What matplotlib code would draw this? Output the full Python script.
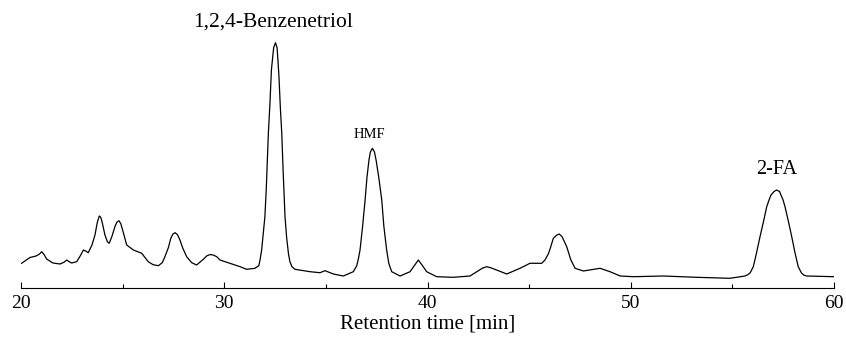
import matplotlib
matplotlib.use("Agg")
import matplotlib.pyplot as plt
from matplotlib.ticker import MultipleLocator

# retention time [min] and detector signal (arbitrary units)
time_min = [
    20.03, 20.25, 20.44, 20.74, 20.90, 21.02, 21.14, 21.26, 21.57, 21.92,
    22.12, 22.25, 22.37, 22.49, 22.74, 22.92, 23.07, 23.20, 23.31, 23.49,
    23.64, 23.75, 23.85, 23.92, 23.99, 24.13, 24.25, 24.34, 24.48, 24.62,
    24.72, 24.82, 24.91, 25.00, 25.20, 25.53, 25.94, 26.26, 26.50, 26.76,
    26.95, 27.08, 27.25, 27.37, 27.47, 27.58, 27.70, 27.82, 27.95, 28.15,
    28.40, 28.64, 28.97, 29.15, 29.32, 29.48, 29.63, 29.79, 30.28, 30.78,
    31.10, 31.51, 31.70, 31.76, 31.84, 31.92, 32.00, 32.07, 32.17, 32.25,
    32.32, 32.43, 32.52, 32.60, 32.69, 32.76, 32.83, 32.90, 32.99, 33.07,
    33.16, 33.23, 33.33, 33.48, 34.22, 34.71, 34.96, 35.37, 35.86, 36.35,
    36.52, 36.61, 36.68, 36.80, 36.93, 37.02, 37.12, 37.19, 37.29, 37.39,
    37.47, 37.59, 37.75, 37.85, 37.99, 38.10, 38.24, 38.65, 39.14, 39.35,
    39.55, 39.65, 39.73, 39.96, 40.45, 41.27, 42.09, 42.70, 42.91, 43.10,
    43.40, 43.90, 44.55, 45.04, 45.62, 45.78, 45.95, 46.05, 46.19, 46.35,
    46.48, 46.62, 46.85, 47.05, 47.26, 47.67, 48.49, 48.98, 49.48, 50.13,
    51.60, 53.24, 54.88, 55.62, 55.76, 55.87, 56.03, 56.19, 56.36, 56.54,
    56.69, 56.81, 56.90, 57.05, 57.18, 57.32, 57.39, 57.49, 57.59, 57.76,
    57.92, 58.08, 58.24, 58.40, 58.52, 58.66, 60.00,
]
signal = [
    24.4, 27.5, 30.2, 31.7, 33.5, 36.0, 33.0, 28.7, 24.7, 23.7,
    25.5, 27.7, 26.0, 24.7, 26.0, 32.0, 37.7, 36.5, 35.0, 42.7,
    52.7, 65.0, 71.7, 70.5, 65.7, 52.7, 46.0, 44.4, 51.7, 61.0,
    65.5, 67.0, 64.0, 57.7, 42.7, 37.7, 34.4, 26.0, 23.0, 22.0,
    25.0, 31.0, 40.0, 49.4, 53.5, 55.0, 53.0, 47.7, 40.0, 31.0,
    25.0, 22.7, 28.4, 32.0, 33.2, 32.5, 31.0, 27.7, 24.4, 21.0,
    18.4, 19.4, 22.0, 27.7, 37.7, 54.4, 71.0, 100.0, 154.4, 185.0,
    217.7, 240.0, 245.0, 240.0, 212.0, 180.0, 154.4, 115.0, 71.0, 50.0,
    34.0, 26.0, 21.0, 18.4, 16.0, 15.0, 17.0, 13.7, 11.7, 16.0,
    22.0, 30.0, 37.7, 60.0, 87.7, 110.0, 127.7, 135.7, 139.4, 135.7,
    127.7, 112.0, 87.7, 62.0, 37.7, 24.0, 16.0, 11.7, 16.0, 22.0,
    27.7, 25.0, 22.7, 16.0, 11.0, 10.4, 11.7, 19.5, 21.0, 20.0,
    17.7, 13.7, 19.4, 24.4, 24.4, 27.7, 34.0, 40.0, 49.4, 52.5,
    53.7, 51.0, 41.0, 28.0, 19.4, 16.7, 19.4, 16.0, 11.7, 11.0,
    11.7, 10.4, 9.4, 11.7, 13.0, 14.7, 21.0, 35.0, 51.0, 67.0,
    81.0, 88.0, 92.7, 96.2, 97.7, 96.2, 92.7, 88.0, 81.0, 66.0,
    51.0, 35.0, 21.0, 14.7, 12.5, 11.7, 11.0,
]

# peak labels
peak_names = ["1,2,4-Benzenetriol", "HMF", "2-FA"]
peak_label_x = [32.4, 37.14, 57.17]
peak_label_y = [266.0, 153.7, 117.7]
peak_label_size = [15.5, 10.5, 14.5]

plt.rcParams["font.family"] = ["Liberation Serif", "DejaVu Serif"]

fig = plt.figure(figsize=(8.46, 3.41), dpi=100)
ax = fig.add_axes([21 / 846, 53.3 / 341, 813 / 846, 287.7 / 341])

ax.plot(time_min, signal, color="black", lw=0.9)

for name, x, y, fs in zip(peak_names, peak_label_x, peak_label_y, peak_label_size):
    ax.text(x, y, name, fontsize=fs, ha="center", va="center", clip_on=False)

ax.set_xlim(20, 60)
ax.set_ylim(0, 287.7)
ax.set_xticks([20, 30, 40, 50, 60])
ax.xaxis.set_minor_locator(MultipleLocator(5))
ax.tick_params(axis="x", which="major", direction="in", length=4.5, width=0.8,
               labelsize=14, pad=5)
ax.tick_params(axis="x", which="minor", direction="in", length=3, width=0.8)
ax.set_yticks([])
for side in ["left", "right", "top"]:
    ax.spines[side].set_visible(False)
ax.spines["bottom"].set_linewidth(0.8)
ax.set_xlabel("Retention time [min]", fontsize=15, labelpad=2)
ax.patch.set_alpha(0)

fig.savefig("out.png", dpi=100)
